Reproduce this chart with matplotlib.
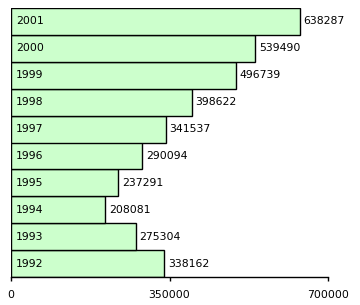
import matplotlib
matplotlib.use("Agg")
import matplotlib.pyplot as plt

years = ["1992", "1993", "1994", "1995", "1996", "1997", "1998", "1999", "2000", "2001"]
values = [338162, 275304, 208081, 237291, 290094, 341537, 398622, 496739, 539490, 638287]
ticks = [0, 350000, 700000]

fig = plt.figure(figsize=(3.6, 3.05), dpi=100)
ax = fig.add_axes([11 / 360, 28 / 305, 317 / 360, 269 / 305])

pos = list(range(len(years)))
ax.barh(pos, values, height=1.0, color="#ccffcc", edgecolor="black", linewidth=1.0)

for p, y, v in zip(pos, years, values):
    ax.text(11000, p, y, va="center", ha="left", fontsize=7.8, color="black")
    ax.text(v + 8000, p, str(v), va="center", ha="left", fontsize=7.8, color="black")

ax.set_xlim(0, 700000)
ax.set_ylim(-0.5, len(years) - 0.5)
ax.set_xticks(ticks)
ax.set_xticklabels([str(t) for t in ticks], fontsize=7.8)
ax.set_yticks([])
for s in ["top", "right", "left"]:
    ax.spines[s].set_visible(False)
ax.spines["bottom"].set_linewidth(1.0)
ax.tick_params(axis="x", length=3, width=1, pad=6)

fig.savefig("out.png", dpi=100)
